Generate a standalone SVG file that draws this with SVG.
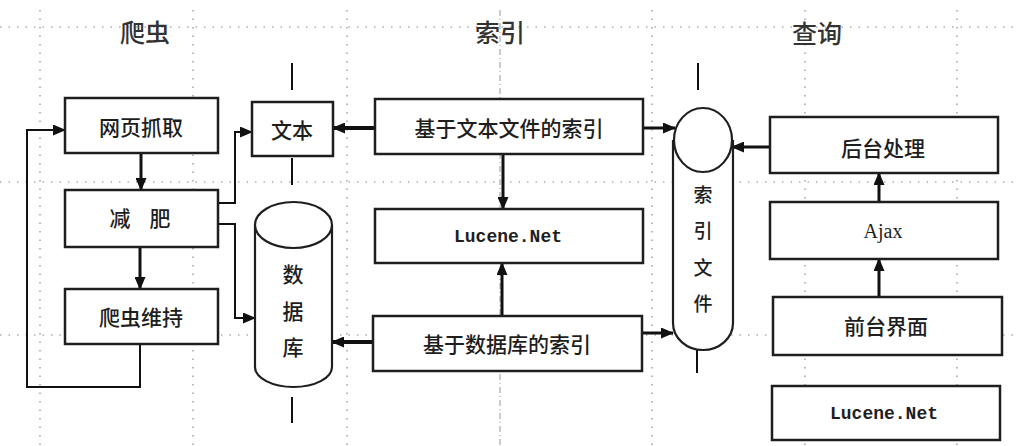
<svg xmlns="http://www.w3.org/2000/svg" width="1019" height="446" viewBox="0 0 1019 446">
<style>
.grid{stroke:#8a8a8a;stroke-width:1.2;stroke-dasharray:1.5 7;fill:none}
.gridv{stroke:#9a9a9a;stroke-width:1;stroke-dasharray:6 3 1 3;fill:none}
.box{fill:#fff;stroke:#1e1e1e;stroke-width:2.5}
.shape{fill:#fff;stroke:#1e1e1e;stroke-width:2.2}
.cn{font-family:"Noto Sans CJK SC","Noto Sans",sans-serif;font-size:21px;font-weight:500;fill:#1e1e1e;text-anchor:middle;dominant-baseline:central}
.title{font-family:"Noto Sans CJK SC","Noto Sans",sans-serif;font-size:25px;font-weight:500;fill:#333;text-anchor:middle;dominant-baseline:central}
.mono{font-family:"Liberation Mono","Courier New",monospace;font-size:18px;font-weight:bold;fill:#1e1e1e;text-anchor:middle;dominant-baseline:central}
.serif{font-family:"Liberation Serif","Times New Roman",serif;font-size:20px;fill:#1e1e1e;text-anchor:middle;dominant-baseline:central}
.c{fill:none;stroke:#111;stroke-width:3}
.thin{fill:none;stroke:#111;stroke-width:2}
.thick{fill:none;stroke:#111;stroke-width:4}
</style>
<defs>
<marker id="ah" markerUnits="userSpaceOnUse" markerWidth="13" markerHeight="11" refX="12" refY="5.5" orient="auto">
<path d="M0,0 L13,5.5 L0,11 z" fill="#111"/>
</marker>
</defs>
<rect width="1019" height="446" fill="#fff"/>
<g id="grid">
<line class="grid" x1="0" y1="27" x2="1019" y2="27"/>
<line class="grid" x1="0" y1="182" x2="1019" y2="182"/>
<line class="grid" x1="0" y1="335" x2="1019" y2="335"/>
<line class="grid" x1="40" y1="10" x2="40" y2="446"/>
<line class="grid" x1="193" y1="10" x2="193" y2="446"/>
<line class="grid" x1="347" y1="10" x2="347" y2="446"/>
<line class="grid" x1="652" y1="10" x2="652" y2="446"/>
<line class="grid" x1="805" y1="10" x2="805" y2="446"/>
<line class="grid" x1="957" y1="10" x2="957" y2="446"/>
<line class="gridv" x1="500" y1="10" x2="500" y2="446"/>
</g>
<g id="titles">
<text class="title" x="145" y="31">爬虫</text>
<text class="title" x="500" y="31">索引</text>
<text class="title" x="817" y="32">查询</text>
</g>
<g id="ticks">
<line class="thin" x1="292" y1="63" x2="292" y2="90"/>
<line class="thin" x1="292" y1="158" x2="292" y2="185"/>
<line class="thin" x1="292" y1="397" x2="292" y2="423"/>
<line class="thin" x1="698" y1="63" x2="698" y2="90"/>
<line class="thin" x1="697" y1="350" x2="697" y2="373"/>
</g>
<g id="connectors">
<path class="c" d="M141,153 L141,190" marker-end="url(#ah)"/>
<path class="c" d="M140,247 L140,289" marker-end="url(#ah)"/>
<path class="thin" d="M140,344 L140,387 L27,387 L27,130 L65,130" marker-end="url(#ah)"/>
<path class="thin" d="M218,203 L235,203 L235,132 L252,132" marker-end="url(#ah)"/>
<path class="thin" d="M218,224 L235,224 L235,318 L255,318" marker-end="url(#ah)"/>
<path class="thick" d="M375,128 L333,128" marker-end="url(#ah)"/>
<path class="c" d="M643,128 L675,128" marker-end="url(#ah)"/>
<path class="c" d="M503,154 L503,209" marker-end="url(#ah)"/>
<path class="c" d="M502,316 L502,263" marker-end="url(#ah)"/>
<path class="thick" d="M373,342 L332,342" marker-end="url(#ah)"/>
<path class="c" d="M642,333 L673,333" marker-end="url(#ah)"/>
<path class="c" d="M770,147 L732,147" marker-end="url(#ah)"/>
<path class="c" d="M879,202 L879,173" marker-end="url(#ah)"/>
<path class="c" d="M879,297 L879,259" marker-end="url(#ah)"/>
</g>
<g id="n-wangye"><rect class="box" x="65" y="98" width="153" height="55"/><text class="cn" x="141" y="126">网页抓取</text></g>
<g id="n-jianfei"><rect class="box" x="65" y="190" width="153" height="57"/><text class="cn" x="140" y="217" xml:space="preserve">减    肥</text></g>
<g id="n-weichi"><rect class="box" x="65" y="289" width="153" height="55"/><text class="cn" x="141" y="316">爬虫维持</text></g>
<g id="n-wenben"><rect class="box" x="252" y="102" width="81" height="54"/><text class="cn" x="292" y="129">文本</text></g>
<g id="n-shujuku">
<path class="shape" d="M255,225 L255,367 A38.5,20 0 0 0 332,367 L332,225"/>
<ellipse class="shape" cx="293.5" cy="225" rx="38.5" ry="23"/>
<text class="cn" x="293" y="273">数</text>
<text class="cn" x="293" y="310">据</text>
<text class="cn" x="293" y="346">库</text>
</g>
<g id="n-wenbensuoyin"><rect class="box" x="375" y="99" width="268" height="55"/><text class="cn" x="509" y="127">基于文本文件的索引</text></g>
<g id="n-lucene1"><rect class="box" x="375" y="209" width="268" height="54"/><text class="mono" x="508" y="237">Lucene.Net</text></g>
<g id="n-dbsuoyin"><rect class="box" x="373" y="316" width="269" height="55"/><text class="cn" x="507" y="343">基于数据库的索引</text></g>
<g id="n-suoyinwenjian">
<path class="shape" d="M673,140 L673,323 A30,27 0 0 0 733,323 L733,140"/>
<ellipse class="shape" cx="703" cy="140" rx="29" ry="32"/>
<text class="cn" x="703" y="193" style="font-size:19px">索</text>
<text class="cn" x="703" y="229" style="font-size:19px">引</text>
<text class="cn" x="703" y="266" style="font-size:19px">文</text>
<text class="cn" x="703" y="302" style="font-size:19px">件</text>
</g>
<g id="n-houtai"><rect class="box" x="770" y="117" width="228" height="56"/><text class="cn" x="883" y="147">后台处理</text></g>
<g id="n-ajax"><rect class="box" x="770" y="202" width="228" height="57"/><text class="serif" x="883" y="231">Ajax</text></g>
<g id="n-qiantai"><rect class="box" x="773" y="297" width="229" height="58"/><text class="cn" x="886" y="325">前台界面</text></g>
<g id="n-lucene2"><rect class="box" x="772" y="386" width="228" height="54"/><text class="mono" x="884" y="414">Lucene.Net</text></g>
</svg>
